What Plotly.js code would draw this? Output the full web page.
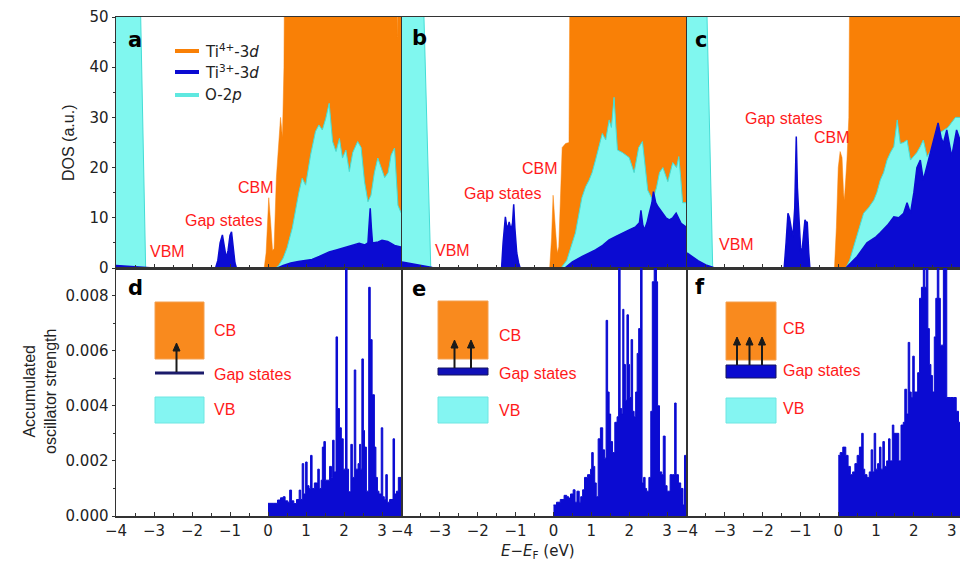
<!DOCTYPE html>
<html><head><meta charset="utf-8">
<script src="https://cdn.plot.ly/plotly-3.0.1.min.js"></script>
<style>body{margin:0;background:#fff}#plot{width:960px;height:566px}</style>
</head><body><div id="plot"></div>
<script>
// ---------- DOS data (E - EF in eV, DOS in a.u.) as [E, value] pairs ----------
const aTi4 = [[-4,0],[-0.1,0],[-0.05,3],[0.02,14],[0.07,9],[0.12,3.5],[0.16,3.9],[0.22,18],[0.33,30],[0.38,26],[0.42,40],[0.45,80],[3.38,80],[3.40,46],[3.42,80],[3.5,80]];
const aO2p = [[-4,80],[-3.35,50],[-3.22,0],[0.2,0],[0.28,0.5],[0.4,2],[0.5,4],[0.64,8],[0.81,15],[0.9,17.9],[0.99,16.5],[1.12,22.5],[1.25,27.2],[1.34,28.5],[1.43,27.5],[1.52,29.8],[1.61,32.8],[1.7,25.2],[1.79,23.2],[1.88,25.8],[1.96,21.9],[2.05,23.5],[2.14,19.2],[2.23,23],[2.36,25.2],[2.45,24],[2.54,17.2],[2.63,13.2],[2.71,14.5],[2.8,19],[2.89,21.9],[2.98,20],[3.07,18],[3.16,19],[3.24,22.5],[3.33,23.9],[3.42,12.5],[3.5,11]];
const aTi3 = [[-4,0.5],[-3.7,0.4],[-3.4,0.25],[-3.2,0.1],[-3.0,0],[-1.38,0],[-1.32,1.5],[-1.26,5],[-1.2,6.6],[-1.15,4],[-1.1,2],[-1.05,3.5],[-1.0,6.5],[-0.96,7.2],[-0.92,4],[-0.87,1],[-0.83,0],[0.25,0],[0.4,0.5],[0.6,1.0],[0.8,1.3],[1.0,1.5],[1.16,1.7],[1.35,2.3],[1.61,3.2],[1.8,3.6],[2.05,4.2],[2.2,4.5],[2.4,4.9],[2.55,4.6],[2.63,5],[2.66,8.6],[2.69,11.9],[2.72,8],[2.75,5],[2.9,5.2],[3.0,5.5],[3.15,5.3],[3.33,4.5],[3.5,4.2]];

const bTi4 = [[-4,0],[-0.1,0],[-0.05,6],[-0.01,14.5],[0.05,8],[0.1,3],[0.14,4.2],[0.2,18],[0.23,24],[0.32,24.8],[0.41,25],[0.45,80],[3.5,80]];
const bO2p = [[-4,80],[-3.42,50],[-3.24,0],[0.2,0],[0.35,1.5],[0.58,7],[0.75,14],[0.85,16.2],[0.94,17.5],[1.02,19],[1.11,21.5],[1.2,24],[1.29,26.8],[1.38,25.5],[1.47,29.5],[1.53,28],[1.6,34],[1.65,28],[1.69,23.5],[1.82,23],[1.9,22.5],[2.0,22],[2.13,19],[2.25,24],[2.35,25.2],[2.42,20],[2.49,15.5],[2.62,13.5],[2.72,16],[2.8,19],[2.89,20],[3.02,17.2],[3.15,21],[3.25,20],[3.31,22.2],[3.36,18],[3.41,13],[3.5,13]];
const bTi3 = [[-4,1.2],[-3.8,0.9],[-3.5,0.5],[-3.2,0.1],[-3.0,0],[-1.37,0],[-1.33,5],[-1.29,9.5],[-1.27,10.2],[-1.23,8],[-1.19,8.5],[-1.17,9.2],[-1.12,7.6],[-1.08,9],[-1.05,12.7],[-1.02,8],[-0.97,3],[-0.92,1],[-0.88,0],[0.3,0],[0.5,1.2],[0.76,2.3],[1.11,3.6],[1.3,4.5],[1.47,5.6],[1.65,6.3],[1.82,7],[2.0,7.6],[2.17,8.2],[2.27,9],[2.31,11.5],[2.36,8.5],[2.4,7.6],[2.47,9],[2.53,10.9],[2.6,13],[2.64,15.2],[2.7,13],[2.76,12.2],[2.89,10.9],[2.97,10],[3.06,9.6],[3.15,10],[3.24,10.9],[3.37,8.9],[3.5,8.2]];

const cTi4 = [[-4,0],[-0.1,0],[-0.05,8],[0.0,20],[0.05,23.2],[0.1,22],[0.14,15],[0.16,13.5],[0.2,18],[0.23,21.5],[0.28,30],[0.32,80],[3.22,80]];
const cO2p = [[-4,80],[-3.47,50],[-3.32,0],[0.2,0],[0.3,1.5],[0.41,4.2],[0.55,8],[0.67,10.9],[0.8,12],[0.94,13.5],[1.02,15],[1.11,17.5],[1.2,19],[1.29,21.5],[1.38,23],[1.47,24.2],[1.56,29.5],[1.64,24.8],[1.73,25],[1.82,25.5],[1.91,21.5],[2.0,22.2],[2.08,23],[2.17,24.2],[2.25,25.5],[2.35,22.2],[2.5,24],[2.7,27],[2.9,28],[3.1,30],[3.22,30]];
const cTi3 = [[-4,3],[-3.85,2.2],[-3.7,1.4],[-3.5,0.6],[-3.3,0.1],[-3.1,0],[-1.43,0],[-1.38,5],[-1.33,10.9],[-1.29,10],[-1.25,8],[-1.2,6],[-1.15,12],[-1.11,26.2],[-1.08,16],[-1.05,12.2],[-1.02,6],[-0.99,3],[-0.95,4],[-0.9,8.5],[-0.88,9.6],[-0.84,9],[-0.82,9.2],[-0.78,3],[-0.75,0],[0.2,0],[0.35,1.2],[0.5,2.3],[0.76,5],[1.0,6.2],[1.11,7],[1.3,8.5],[1.47,10.2],[1.6,10],[1.73,10.9],[1.82,13],[1.91,10.9],[2.0,15],[2.08,20],[2.17,21.5],[2.25,17.5],[2.38,21.5],[2.52,25.5],[2.64,28.9],[2.72,26],[2.78,24.8],[2.87,27.5],[2.95,24],[3.0,22.2],[3.13,27.5],[3.22,25.5]];

// ---------- Accumulated oscillator strength (step spectrum) as [E, value] ----------
const dOsc = [[0.00,0.00046],[0.15,0.00046],[0.25,0.00058],[0.33,0.00066],[0.40,0.0007],[0.45,0.00055],[0.52,0.0005],[0.57,0.00094],[0.62,0.00055],[0.68,0.00045],[0.75,0.0006],[0.82,0.00094],[0.86,0.0006],[0.90,0.0019],[0.94,0.0008],[0.99,0.00196],[1.03,0.0011],[1.08,0.001],[1.12,0.0022],[1.16,0.001],[1.22,0.0012],[1.27,0.0012],[1.31,0.0017],[1.35,0.001],[1.40,0.0013],[1.43,0.0025],[1.47,0.0027],[1.51,0.0013],[1.56,0.0013],[1.62,0.0018],[1.67,0.0014],[1.70,0.00275],[1.74,0.0016],[1.79,0.0065],[1.83,0.0039],[1.88,0.0032],[1.93,0.0028],[1.98,0.0017],[2.04,0.0095],[2.08,0.0017],[2.12,0.00088],[2.18,0.0026],[2.22,0.0014],[2.27,0.0053],[2.31,0.0017],[2.37,0.0019],[2.41,0.0026],[2.44,0.0017],[2.47,0.0057],[2.51,0.0031],[2.54,0.0025],[2.59,0.0009],[2.65,0.0083],[2.69,0.0064],[2.74,0.0044],[2.80,0.0025],[2.84,0.0014],[2.88,0.0009],[2.92,0.0008],[2.98,0.0032],[3.02,0.0007],[3.06,0.0006],[3.10,0.0015],[3.14,0.0005],[3.20,0.0006],[3.29,0.0028],[3.33,0.0008],[3.38,0.0009],[3.43,0.0014],[3.5,0.0014]];
const eOsc = [[0.00,0.0004],[0.08,0.0005],[0.18,0.0006],[0.28,0.00075],[0.35,0.0007],[0.40,0.00065],[0.45,0.0008],[0.52,0.00095],[0.57,0.0005],[0.62,0.0009],[0.68,0.0005],[0.72,0.0007],[0.77,0.00095],[0.82,0.0014],[0.90,0.0015],[0.98,0.0017],[1.01,0.0023],[1.05,0.0018],[1.09,0.0012],[1.13,0.0007],[1.18,0.0028],[1.24,0.0032],[1.30,0.0024],[1.35,0.0021],[1.39,0.0071],[1.43,0.0045],[1.47,0.0037],[1.51,0.0027],[1.56,0.0023],[1.62,0.0034],[1.68,0.0036],[1.72,0.0095],[1.76,0.0039],[1.80,0.0037],[1.83,0.0075],[1.86,0.0055],[1.90,0.0042],[1.94,0.0073],[1.98,0.0055],[2.01,0.0043],[2.05,0.0064],[2.09,0.0038],[2.13,0.0036],[2.17,0.0045],[2.21,0.0059],[2.25,0.0068],[2.30,0.0095],[2.34,0.0012],[2.38,0.0014],[2.42,0.001],[2.46,0.0009],[2.52,0.0014],[2.57,0.0038],[2.61,0.0085],[2.66,0.0095],[2.72,0.0085],[2.75,0.004],[2.80,0.0016],[2.86,0.0015],[2.90,0.0029],[2.95,0.0011],[3.00,0.0009],[3.08,0.0015],[3.14,0.0015],[3.20,0.0041],[3.24,0.0015],[3.30,0.0012],[3.36,0.001],[3.42,0.0004],[3.46,0.0022],[3.5,0.0022]];
const fOsc = [[0.00,0.0022],[0.05,0.0023],[0.12,0.0025],[0.20,0.0022],[0.26,0.0018],[0.32,0.0015],[0.38,0.0016],[0.44,0.0019],[0.50,0.0022],[0.56,0.0025],[0.62,0.003],[0.66,0.0017],[0.70,0.0015],[0.76,0.0014],[0.82,0.0016],[0.87,0.0024],[0.91,0.0016],[0.95,0.003],[0.99,0.0017],[1.04,0.0019],[1.09,0.0025],[1.13,0.0017],[1.18,0.0027],[1.22,0.0018],[1.28,0.002],[1.33,0.0028],[1.37,0.002],[1.43,0.0033],[1.47,0.003],[1.55,0.003],[1.60,0.002],[1.66,0.0033],[1.72,0.0034],[1.76,0.0046],[1.81,0.0037],[1.85,0.0063],[1.89,0.0045],[1.93,0.0043],[1.97,0.0058],[2.01,0.0045],[2.06,0.0045],[2.10,0.0052],[2.15,0.0079],[2.20,0.0083],[2.25,0.0095],[2.29,0.0083],[2.33,0.0095],[2.37,0.0068],[2.41,0.0055],[2.45,0.0051],[2.49,0.0045],[2.54,0.0065],[2.58,0.0079],[2.62,0.0090],[2.66,0.0079],[2.70,0.0062],[2.74,0.0062],[2.78,0.0095],[2.83,0.0095],[2.87,0.0043],[2.96,0.0043],[3.05,0.0043],[3.12,0.0038],[3.18,0.0034],[3.24,0.0034]];

const xTicks = [-4,-3,-2,-1,0,1,2,3];
const seriesNames = ['Ti<sup>4+</sup>-3<i>d</i>','Ti<sup>3+</sup>-3<i>d</i>','O-2<i>p</i>'];

// ---------- styling ----------
const ORANGE = '#F98006', CYAN = '#80F7EF', CYANLINE = '#45DDD6', BLUE = '#0B0BD2';
const W = 960, H = 566;
const X = p => p / W, Y = p => 1 - p / H;
const tickFont = {family:'DejaVu Sans, sans-serif', size:15, color:'#222'};
const redFont = {family:'Liberation Sans, Arial, sans-serif', size:16, color:'#FF1A1A'};

const colDom = [[116/W, 401/W],[402/W, 686/W],[687/W, 1]];
const colRange = [[-4,3.5],[-4,3.5],[-4,3.22]];
const topDom = [1-268/H, 1-17/H], botDom = [1-516/H, 1-268/H];

const xs = p => p.map(v => v[0]), ys = p => p.map(v => v[1]);
function area(pairs, xa, ya, fill, line, lw, shape) {
  return {x: xs(pairs), y: ys(pairs), xaxis: xa, yaxis: ya, type:'scatter', mode:'lines',
    fill:'tozeroy', fillcolor: fill, line:{color: line, width: lw, shape: shape || 'linear'},
    hoverinfo:'skip', showlegend:false};
}
const panels = [[aTi4,aO2p,aTi3],[bTi4,bO2p,bTi3],[cTi4,cO2p,cTi3]];
const oscs = [dOsc, eOsc, fOsc];
const traces = [];
panels.forEach((p, i) => {
  const xa = i === 0 ? 'x' : 'x' + (i+1), ya = i === 0 ? 'y' : 'y' + (i+1);
  traces.push(area(p[0], xa, ya, ORANGE, ORANGE, 0.5));
  traces.push(area(p[1], xa, ya, CYAN, CYANLINE, 1));
  traces.push(area(p[2], xa, ya, BLUE, BLUE, 1.5));
});
oscs.forEach((o, i) => {
  traces.push(area(o, 'x' + (i+4), 'y' + (i+4), BLUE, BLUE, 1, 'hv'));
});

const layout = {width: W, height: H, margin:{l:0,r:0,t:0,b:0}, paper_bgcolor:'#fff', plot_bgcolor:'#fff',
  showlegend:false, shapes:[], annotations:[]};

function xAxis(i, labels, anchor) {
  return {domain: colDom[i], range: colRange[i], anchor: anchor, showline:true, mirror:true,
    linecolor:'#333', linewidth:1.5, ticks:'inside', ticklen:4, tickcolor:'#333',
    tickvals: xTicks, showgrid:false, zeroline:false, showticklabels: labels, tickfont: tickFont,
    minor:{dtick:0.5, ticks:'inside', ticklen:3, tickcolor:'#333', showgrid:false}};
}
function yAxis(i, dom, range, anchor, labeled, dtick, minorDt, fmt) {
  const ax = {domain: dom, range: range, anchor: anchor, showline:true, mirror:true,
    linecolor:'#333', linewidth:1.5, showgrid:false, zeroline:false, tickfont: tickFont};
  if (labeled) {
    Object.assign(ax, {ticks:'outside', ticklen:3, tickcolor:'#333', dtick: dtick, tick0:0,
      tickformat: fmt, minor:{dtick: minorDt, ticks:'outside', ticklen:2, tickcolor:'#333', showgrid:false}});
  } else {
    Object.assign(ax, {ticks:'', showticklabels:false});
  }
  return ax;
}
for (let i = 0; i < 3; i++) {
  const tx = i === 0 ? 'xaxis' : 'xaxis' + (i+1);
  const ty = i === 0 ? 'yaxis' : 'yaxis' + (i+1);
  const tyA = i === 0 ? 'y' : 'y' + (i+1), txA = i === 0 ? 'x' : 'x' + (i+1);
  layout[tx] = xAxis(i, false, tyA);
  layout[ty] = yAxis(i, topDom, [0,50], txA, i === 0, 10, 5, 'd');
  layout['xaxis' + (i+4)] = xAxis(i, true, 'y' + (i+4));
  layout['yaxis' + (i+4)] = yAxis(i, botDom, [0,0.009], 'x' + (i+4), i === 0, 0.002, 0.001, '.3f');
}

const A = layout.annotations, S = layout.shapes;
function txt(t, x, y, font, opts) {
  A.push(Object.assign({text: t, x: X(x), y: Y(y), xref:'paper', yref:'paper', showarrow:false,
    font: font, xanchor:'left', yanchor:'middle'}, opts || {}));
}
// panel letters
const letFont = {family:'DejaVu Sans, sans-serif', size:21, color:'#000', weight:'bold'};
[['a',126,40],['b',410,38],['c',693,40],['d',126,288],['e',410,289],['f',693,287]].forEach(l =>
  txt('<b>' + l[0] + '</b>', l[1], l[2], letFont));

// legend in panel a
const legCols = [ORANGE, BLUE, '#5FE8E0'], legY = [51, 72, 95];
seriesNames.forEach((n, k) => {
  S.push({type:'line', xref:'paper', yref:'paper', x0: X(175), x1: X(199), y0: Y(legY[k]), y1: Y(legY[k]),
    line:{color: legCols[k], width:4}});
  txt(n, 203, legY[k], {family:'DejaVu Sans, sans-serif', size:15, color:'#222'});
});

// red labels on DOS panels
[['VBM',167,251],['Gap states',223,220],['CBM',256,188],
 ['VBM',452,250],['Gap states',502,193],['CBM',540,168],
 ['VBM',736,245],['Gap states',783,119],['CBM',832,138]].forEach(l =>
  txt(l[0], l[1], l[2], redFont, {xanchor:'center'}));

// insets (band diagrams)
function rect(x0, x1, y0, y1, fill, line, lw) {
  S.push({type:'rect', xref:'paper', yref:'paper', x0: X(x0), x1: X(x1), y0: Y(y1), y1: Y(y0),
    fillcolor: fill, line:{color: line, width: lw}});
}
function arrow(x, yTail, yTip) {
  S.push({type:'line', xref:'paper', yref:'paper', x0: X(x), x1: X(x), y0: Y(yTail), y1: Y(yTip + 6),
    line:{color:'#1a1a1a', width:2}});
  S.push({type:'path', xref:'paper', yref:'paper',
    path: 'M ' + X(x-3.5) + ' ' + Y(yTip+8) + ' L ' + X(x) + ' ' + Y(yTip) + ' L ' + X(x+3.5) + ' ' + Y(yTip+8) + ' Z',
    fillcolor:'#1a1a1a', line:{color:'#1a1a1a', width:1}});
}
const insetOrange = '#F98A1E', insetCyan = '#84F5F2';
// d
rect(155, 204, 302, 359, insetOrange, '#F4A050', 1);
S.push({type:'line', xref:'paper', yref:'paper', x0:X(155), x1:X(204), y0:Y(373), y1:Y(373), line:{color:'#1B1B6B', width:3}});
arrow(176.5, 372, 343);
rect(155, 204, 397, 423, insetCyan, '#6FE6E2', 1);
txt('CB', 212, 330, redFont); txt('Gap states', 212, 374, redFont); txt('VB', 212, 409, redFont);
// e
rect(438, 488, 301, 359, insetOrange, '#F4A050', 1);
rect(438, 488, 368, 375, '#1010B8', '#15155E', 1);
arrow(454.5, 368, 340); arrow(471, 368, 340);
rect(438, 488, 397, 423, insetCyan, '#6FE6E2', 1);
txt('CB', 497, 335, redFont); txt('Gap states', 497, 373, redFont); txt('VB', 497, 410, redFont);
// f
rect(726, 776, 302, 360, insetOrange, '#F4A050', 1);
rect(726, 776, 365, 378, '#0A0AD0', '#15155E', 1);
arrow(737, 365, 337); arrow(749.5, 365, 337); arrow(762, 365, 337);
rect(726, 776, 398, 423, insetCyan, '#6FE6E2', 1);
txt('CB', 781, 328, redFont); txt('Gap states', 781, 370, redFont); txt('VB', 781, 408, redFont);

// axis titles
const titleFont = {family:'Liberation Sans, Arial, sans-serif', size:16, color:'#222'};
txt('DOS (a.u.)', 68, 143, titleFont, {xanchor:'center', textangle:-90});
txt('Accumulated<br>oscillator strength', 40, 392, titleFont, {xanchor:'center', textangle:-90});
txt('<i>E</i>−<i>E</i><sub>F</sub> (eV)', 538, 551, {family:'DejaVu Sans, sans-serif', size:15, color:'#222'}, {xanchor:'center'});

Plotly.newPlot('plot', traces, layout, {staticPlot:true, displayModeBar:false});
</script></body></html>
